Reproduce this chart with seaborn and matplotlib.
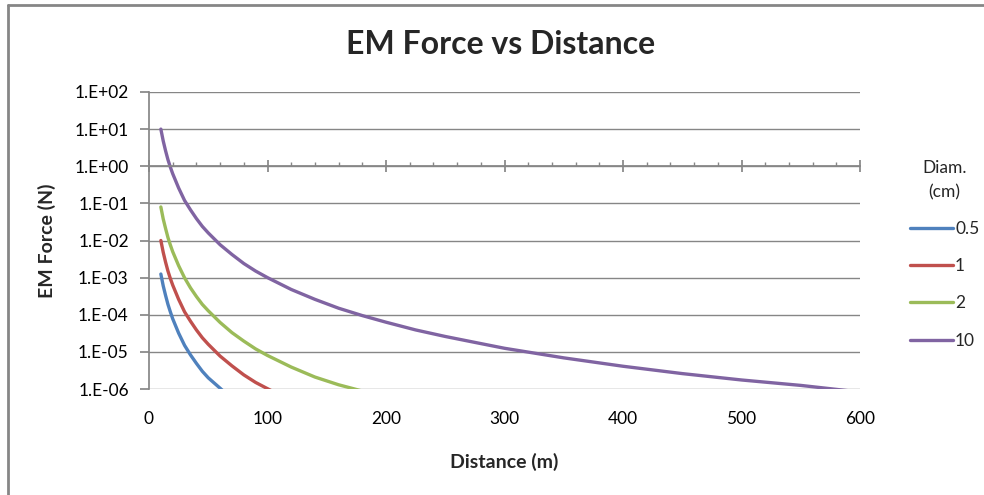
"""EM force vs distance chart (Excel style, log y axis)."""

import numpy as np
import pandas as pd
import matplotlib
matplotlib.use("Agg")
import matplotlib.pyplot as plt
import matplotlib.ticker as mticker
from matplotlib.lines import Line2D
import seaborn as sns

# values
diam_labels = ["0.5", "1", "2", "10"]
line_colors = ["#4F81BD", "#C0504D", "#9BBB59", "#8064A2"]

dist_05 = [10, 12, 14, 16, 18, 20, 25, 30, 35, 40, 45, 50, 60, 70]
force_05 = [1.25e-3, 6.0e-4, 3.3e-4, 1.9e-4, 1.2e-4, 7.8e-5, 3.2e-5, 1.5e-5,
            8.3e-6, 4.9e-6, 3.0e-6, 2.0e-6, 1.05e-6, 5.4e-7]

dist_1 = [10, 12, 14, 16, 18, 20, 25, 30, 35, 40, 45, 50, 60, 70, 80, 90, 100, 110]
force_1 = [1.0e-2, 4.8e-3, 2.6e-3, 1.5e-3, 9.5e-4, 6.3e-4, 2.6e-4, 1.2e-4,
           6.7e-5, 3.9e-5, 2.4e-5, 1.6e-5, 7.7e-6, 4.2e-6, 2.4e-6, 1.5e-6,
           1.02e-6, 7.0e-7]

dist_2 = [10, 12, 14, 16, 18, 20, 25, 30, 35, 40, 45, 50, 60, 70, 80, 90, 100,
          120, 140, 160, 180, 190]
force_2 = [8.0e-2, 3.8e-2, 2.1e-2, 1.2e-2, 7.6e-3, 5.0e-3, 2.1e-3, 9.9e-4,
           5.3e-4, 3.1e-4, 1.9e-4, 1.28e-4, 6.2e-5, 3.3e-5, 1.95e-5, 1.2e-5,
           8.0e-6, 3.9e-6, 2.1e-6, 1.3e-6, 8.8e-7, 7.0e-7]

dist_10 = [10, 12, 14, 16, 18, 20, 25, 30, 35, 40, 45, 50, 60, 70, 80, 90, 100,
           120, 140, 160, 180, 200, 225, 250, 275, 300, 350, 400, 450, 500,
           550, 590]
force_10 = [10.0, 4.8, 2.6, 1.5, 0.95, 0.63, 0.26, 0.12, 0.067, 0.039, 0.024,
            0.016, 7.7e-3, 4.2e-3, 2.4e-3, 1.5e-3, 1.0e-3, 4.8e-4, 2.6e-4,
            1.5e-4, 9.5e-5, 6.3e-5, 3.9e-5, 2.6e-5, 1.8e-5, 1.25e-5, 6.9e-6,
            4.1e-6, 2.6e-6, 1.75e-6, 1.25e-6, 9.0e-7]

x_ticks = [0, 100, 200, 300, 400, 500, 600]
y_ticks = [1e-6, 1e-5, 1e-4, 1e-3, 1e-2, 1e-1, 1e0, 1e1, 1e2]

frames = []
for lab, d, f in zip(diam_labels,
                     [dist_05, dist_1, dist_2, dist_10],
                     [force_05, force_1, force_2, force_10]):
    frames.append(pd.DataFrame({"Distance": d, "Force": f, "Diam": lab}))
df = pd.concat(frames, ignore_index=True)

sns.set_theme(style="white")
plt.rcParams["font.family"] = ["Lato", "DejaVu Sans"]

grey = "#868686"
W, H = 984, 495
fig = plt.figure(figsize=(W / 100, H / 100), dpi=100)
ax = fig.add_axes([149 / W, 1 - 389 / H, (860 - 149) / W, (389 - 92) / H])

sns.lineplot(data=df, x="Distance", y="Force", hue="Diam",
             hue_order=diam_labels, palette=line_colors, estimator=None,
             sort=False, linewidth=2.4, ax=ax, legend=True)

ax.set_yscale("log")
ax.set_ylim(1e-6, 1e2)
ax.set_xlim(0, 600)
ax.set_xlabel("")
ax.set_ylabel("")

# grid lines at every decade
ax.yaxis.set_major_locator(mticker.FixedLocator(y_ticks))
ax.yaxis.set_minor_locator(mticker.NullLocator())
ax.yaxis.set_major_formatter(mticker.FuncFormatter(
    lambda v, p: f"1.E{int(round(np.log10(v))):+03d}"))
ax.grid(axis="y", color=grey, linewidth=1.0)
ax.grid(axis="x", visible=False)

for side in ["top", "right"]:
    ax.spines[side].set_visible(False)
ax.spines["left"].set_color(grey)
ax.spines["bottom"].set_color(grey)
ax.spines["bottom"].set_position(("data", 1.0))

ax.tick_params(axis="y", which="major", direction="out", length=6.5,
               color=grey, labelsize=12.5, pad=8, left=True, labelcolor="black")
ax.xaxis.set_major_locator(mticker.FixedLocator(x_ticks))
ax.xaxis.set_minor_locator(mticker.MultipleLocator(20))
ax.tick_params(axis="x", which="major", direction="inout", length=9,
               color=grey, labelbottom=False, bottom=True)
ax.tick_params(axis="x", which="minor", direction="in", length=3,
               color=grey, bottom=True)

# x tick labels sit at the bottom of the plot area
sec = ax.secondary_xaxis("bottom")
sec.set_xticks(x_ticks)
sec.set_xticklabels([str(t) for t in x_ticks])
sec.tick_params(length=0, pad=16, labelsize=12.5, labelcolor="black")
sec.spines["bottom"].set_visible(False)

fig.text(501 / W, 1 - 54 / H, "EM Force vs Distance", ha="center",
         va="baseline", fontsize=23, fontweight="bold")
fig.text(504 / W, 1 - 462 / H, "Distance (m)", ha="center", va="center",
         fontsize=14, fontweight="bold")
fig.text(47 / W, 1 - 241 / H, "EM Force (N)", ha="center", va="center",
         rotation=90, fontsize=14, fontweight="bold")

handles, labels = ax.get_legend_handles_labels()
leg = ax.legend(handles, labels, title="Diam.\n(cm)", loc="upper left",
                bbox_to_anchor=(903 / W, 1 - 153 / H),
                bbox_transform=fig.transFigure, frameon=False, fontsize=12.5,
                title_fontsize=12.5, handlelength=2.5, handletextpad=0.1,
                labelspacing=1.22, borderaxespad=0)
leg.get_title().set_linespacing(1.6)
leg.get_title().set_multialignment("center")
for h in leg.get_lines():
    h.set_linewidth(2.4)

# chart area border (cropped on the right and bottom)
fig.add_artist(Line2D([7.5 / W, 7.5 / W], [0, 1 - 5 / H], color=grey,
                      linewidth=2, transform=fig.transFigure))
fig.add_artist(Line2D([7.5 / W, 1], [1 - 5 / H, 1 - 5 / H], color=grey,
                      linewidth=2, transform=fig.transFigure))

fig.savefig("out.png", dpi=100)
